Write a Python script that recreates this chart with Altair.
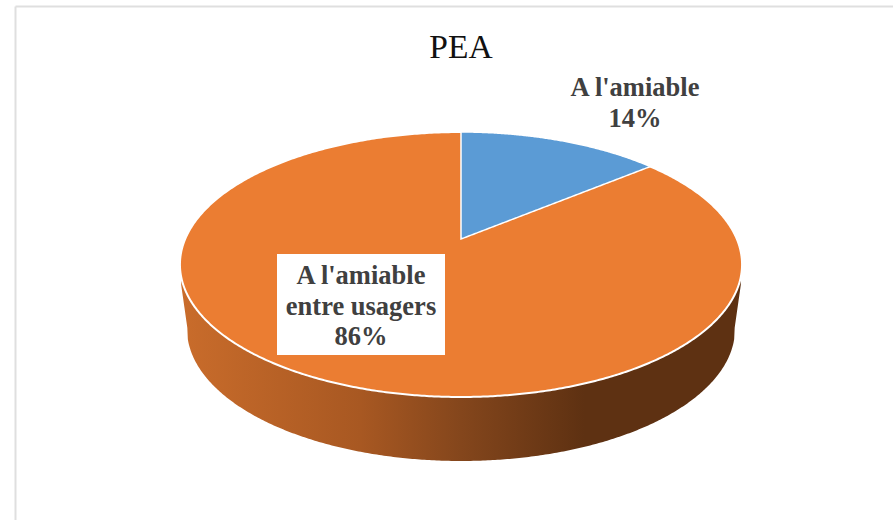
import math

import altair as alt
import numpy as np
import pandas as pd

# Chart values
TITLE = "PEA"
CATEGORIES = ["A l'amiable", "A l'amiable entre usagers"]
SHARES = [14, 86]

# Canvas and disc geometry, in canvas pixels
W, H = 893, 520
CX, TIP_Y = 461.0, 239.0     # where the disc's centre lands under perspective
TOP_Y, BOTTOM_Y = 132.0, 397.0
K = 0.1925                   # perspective strength: the far edge shrinks
A = (TIP_Y - TOP_Y) * (1 + K)
B = 275.8
RX = B / math.sqrt(1 - K * K)
RY = (BOTTOM_Y - TOP_Y) / 2
CY = (BOTTOM_Y + TOP_Y) / 2

# Lower rim of the pie's wall
WALL_RX, WALL_RY, WALL_CY = 274.0, 132.0, 329.0
WALL_HALF_SPAN = 279.8
WALL_CORNER_Y = 285.0

ORANGE, BLUE = "#EB7D32", "#5B9BD5"
INK = "#404040"

x_scale = alt.Scale(domain=[0, W], range=[0, W], nice=False, zero=False)
y_scale = alt.Scale(domain=[0, H], range=[0, H], nice=False, zero=False)


def project(share_fraction):
    """Screen position of a point on the rim, given the cumulative share."""
    a = 2 * math.pi * share_fraction
    u, v = math.sin(a), math.cos(a)
    d = 1 + K * v
    return CX + B * u / d, TIP_Y - A * v / d


def rim_upper(x):
    return CY - RY * np.sqrt(np.clip(1 - ((x - CX) / RX) ** 2, 0, 1))


def rim_lower(x):
    return CY + RY * np.sqrt(np.clip(1 - ((x - CX) / RX) ** 2, 0, 1))


def area_layer(frame, **mark):
    return alt.Chart(frame).mark_area(**mark).encode(
        x=alt.X("px:Q", scale=x_scale, axis=None),
        y=alt.Y("py:Q", scale=y_scale, axis=None),
        y2=alt.Y2("py2"),
    )


phi = np.radians(np.arange(-90, 90.25, 0.5))

# Top face of the disc: the largest slice fills it, the smaller one sits on top
disc_x = CX + RX * np.sin(phi)
disc = pd.DataFrame({"px": disc_x, "py": rim_upper(disc_x), "py2": rim_lower(disc_x)})

# Small slice, bounded by the rim above and the radius to its end point below
end_x, end_y = project(SHARES[0] / sum(SHARES))
wedge_x = np.linspace(CX, end_x, 160)
wedge = pd.DataFrame({
    "px": wedge_x,
    "py": rim_upper(wedge_x),
    "py2": TIP_Y + (end_y - TIP_Y) * (wedge_x - CX) / (end_x - CX),
})

# Wall of the pie, between the front of the rim and its lower copy
wall_x = CX + WALL_HALF_SPAN * np.sin(phi)
wall_top = rim_lower(wall_x)
wall_floor = WALL_CY + WALL_RY * np.sqrt(np.clip(1 - ((wall_x - CX) / WALL_RX) ** 2, 0, 1))
# Beyond the lower rim's widest point the wall closes with a straight edge
outside = np.abs(wall_x - CX) > WALL_RX - 0.5
wall_floor[outside] = (
    WALL_CORNER_Y
    + (WALL_CY - WALL_CORNER_Y)
    * (WALL_HALF_SPAN - np.abs(wall_x[outside] - CX))
    / (WALL_HALF_SPAN - WALL_RX + 0.5)
)
wall = pd.DataFrame({"px": wall_x, "py": wall_top, "py2": wall_floor})

wall_fill = alt.Gradient(
    gradient="linear",
    x1=0, y1=0, x2=1, y2=0,
    stops=[
        alt.GradientStop(color="#C96C2B", offset=0),
        alt.GradientStop(color="#A85822", offset=0.32),
        alt.GradientStop(color="#84461C", offset=0.5),
        alt.GradientStop(color="#5E3112", offset=0.72),
        alt.GradientStop(color="#5E3112", offset=1),
    ],
)

one_row = pd.DataFrame({"n": [0]})

frame_left = alt.Chart(one_row).mark_rule(color="#DFDFDF", strokeWidth=2).encode(
    x=alt.value(15.5), y=alt.value(6.5), y2=alt.value(H)
)
frame_top = alt.Chart(one_row).mark_rule(color="#DFDFDF", strokeWidth=2).encode(
    x=alt.value(15.5), x2=alt.value(W), y=alt.value(6.5)
)

label_box = alt.Chart(one_row).mark_rect(color="white").encode(
    x=alt.value(277), x2=alt.value(445), y=alt.value(254), y2=alt.value(355)
)

title_text = alt.Chart(pd.DataFrame({"t": [TITLE]})).mark_text(
    font="Liberation Serif", fontSize=33.5, color="#111111",
    align="center", baseline="alphabetic",
).encode(x=alt.value(461), y=alt.value(58), text="t:N")


def slice_label(lines, x, y):
    return alt.Chart(pd.DataFrame({"t": ["\n".join(lines)]})).mark_text(
        font="Liberation Serif", fontSize=26.5, fontWeight="bold", color=INK,
        align="center", baseline="alphabetic", lineBreak="\n", lineHeight=30.5,
    ).encode(x=alt.value(x), y=alt.value(y), text="t:N")


small_label = slice_label([CATEGORIES[0], f"{SHARES[0]}%"], 635, 96)
large_label = slice_label(
    ["A l'amiable", "entre usagers", f"{SHARES[1]}%"], 361, 284
)

chart = alt.layer(
    frame_left,
    frame_top,
    area_layer(wall, color=wall_fill),
    area_layer(disc, color=ORANGE, stroke="white", strokeWidth=2),
    area_layer(wedge, color=BLUE, stroke="white", strokeWidth=1.5),
    label_box,
    title_text,
    small_label,
    large_label,
).properties(
    width=W,
    height=H,
    padding=0,
    autosize=alt.AutoSizeParams(type="none"),
    background="white",
).configure_view(stroke=None)

chart.save("out.html", embed_options={"renderer": "svg", "actions": False})
